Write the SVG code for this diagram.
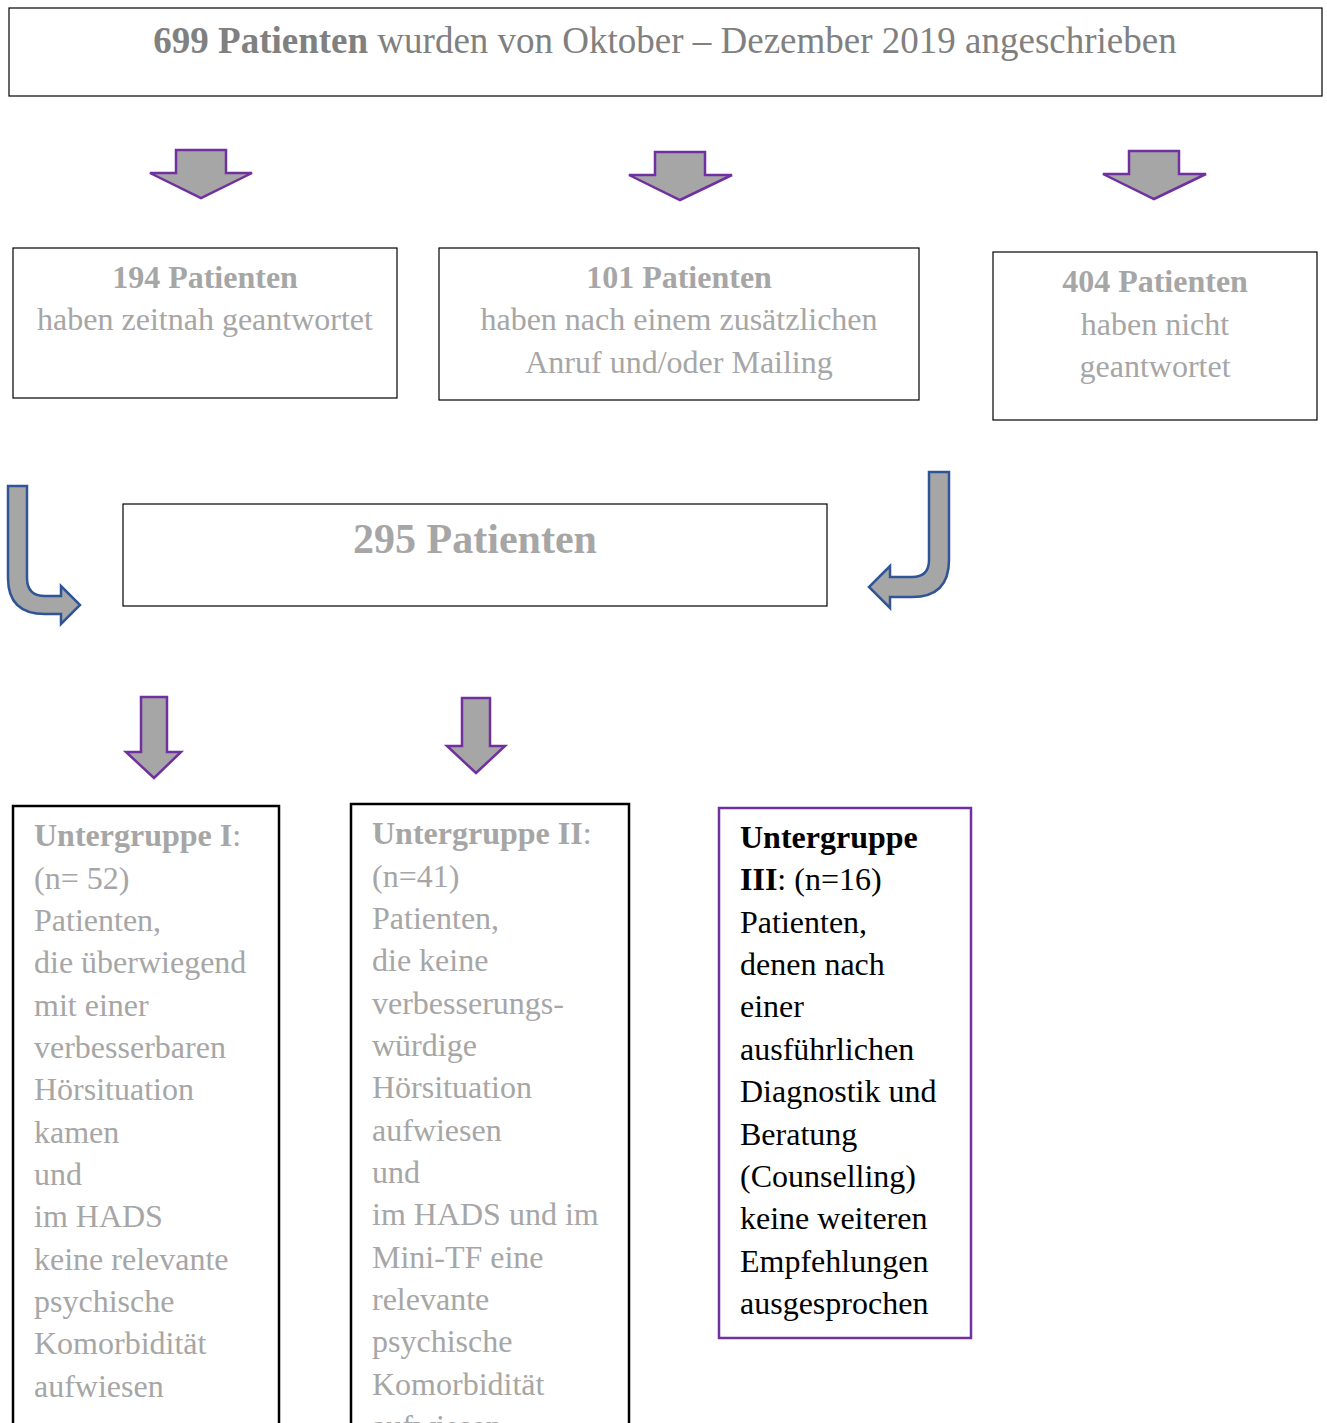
<svg xmlns="http://www.w3.org/2000/svg" width="1327" height="1423" viewBox="0 0 1327 1423">
<style>
text{font-family:"Liberation Serif","Times New Roman",serif;}
.box{fill:#fff;stroke:#000;stroke-width:1.2;}
.sub{fill:#fff;stroke:#000;stroke-width:2.5;}
.g{fill:#a6a6a6;font-size:32px;}
.t{fill:#808080;}
.b{font-weight:bold;}
.k{fill:#000;font-size:32px;}
.pa{fill:#a6a6a6;stroke:#7030a0;stroke-width:2.5;stroke-linejoin:miter;}
.ba{fill:#a6a6a6;stroke:#2f5597;stroke-width:2.5;}
</style>
<rect width="1327" height="1423" fill="#fff"/>
<g id="connectors">
<path class="pa" d="M176,150 H226 V173 H252 L201,198 L150,173 H176 Z"/>
<path class="pa" d="M655,152 H705 V175 H732 L680,200 L629,175 H655 Z"/>
<path class="pa" d="M1129,151 H1179 V174 H1206 L1154,199 L1103,174 H1129 Z"/>
<path class="ba" d="M8,486 H27 V578 Q27,596 45,596 H61 V586 L80,605 L61,624 V614 H45 Q8,614 8,578 Z"/>
<path class="ba" d="M929,472 H949 V560 Q949,597 912,597 H890 V608 L869,587 L890,566 V577 H912 Q929,577 929,560 Z"/>
<path class="pa" d="M141,697 H167 V752 H181 L154,778 L126,752 H141 Z"/>
<path class="pa" d="M462,698 H490 V746 H505 L476,773 L447,746 H462 Z"/>
</g>
<g id="n699">
<rect class="box" x="9" y="8" width="1313" height="88"/>
<text x="665" y="53" text-anchor="middle" font-size="37" class="t"><tspan class="b">699 Patienten</tspan> wurden von Oktober – Dezember 2019 angeschrieben</text>
</g>
<g id="n194">
<rect class="box" x="13" y="248" width="384" height="150"/>
<text class="g" text-anchor="middle"><tspan class="b" x="205" y="288">194 Patienten</tspan><tspan x="205" y="330">haben zeitnah geantwortet</tspan></text>
</g>
<g id="n101">
<rect class="box" x="439" y="248" width="480" height="152"/>
<text class="g" text-anchor="middle"><tspan class="b" x="679" y="288">101 Patienten</tspan><tspan x="679" y="330">haben nach einem zusätzlichen</tspan><tspan x="679" y="373">Anruf und/oder Mailing</tspan></text>
</g>
<g id="n404">
<rect class="box" x="993" y="252" width="324" height="168"/>
<text class="g" text-anchor="middle"><tspan class="b" x="1155" y="292">404 Patienten</tspan><tspan x="1155" y="335">haben nicht</tspan><tspan x="1155" y="377">geantwortet</tspan></text>
</g>
<g id="n295">
<rect class="box" x="123" y="504" width="704" height="102"/>
<text x="475" y="553" text-anchor="middle" font-size="42" fill="#a6a6a6" class="b">295 Patienten</text>
</g>
<g id="ug1">
<rect class="sub" x="13" y="806" width="266" height="640"/>
<text class="g">
<tspan x="34" y="846"><tspan class="b">Untergruppe I</tspan>:</tspan>
<tspan x="34" y="889">(n= 52)</tspan>
<tspan x="34" y="931">Patienten,</tspan>
<tspan x="34" y="973">die überwiegend</tspan>
<tspan x="34" y="1016">mit einer</tspan>
<tspan x="34" y="1058">verbesserbaren</tspan>
<tspan x="34" y="1100">Hörsituation</tspan>
<tspan x="34" y="1143">kamen</tspan>
<tspan x="34" y="1185">und</tspan>
<tspan x="34" y="1227">im HADS</tspan>
<tspan x="34" y="1270">keine relevante</tspan>
<tspan x="34" y="1312">psychische</tspan>
<tspan x="34" y="1354">Komorbidität</tspan>
<tspan x="34" y="1397">aufwiesen</tspan>
</text>
</g>
<g id="ug2">
<rect class="sub" x="351" y="804" width="278" height="640"/>
<text class="g">
<tspan x="372" y="844"><tspan class="b">Untergruppe II</tspan>:</tspan>
<tspan x="372" y="887">(n=41)</tspan>
<tspan x="372" y="929">Patienten,</tspan>
<tspan x="372" y="971">die keine</tspan>
<tspan x="372" y="1014">verbesserungs-</tspan>
<tspan x="372" y="1056">würdige</tspan>
<tspan x="372" y="1098">Hörsituation</tspan>
<tspan x="372" y="1141">aufwiesen</tspan>
<tspan x="372" y="1183">und</tspan>
<tspan x="372" y="1225">im HADS und im</tspan>
<tspan x="372" y="1268">Mini-TF eine</tspan>
<tspan x="372" y="1310">relevante</tspan>
<tspan x="372" y="1352">psychische</tspan>
<tspan x="372" y="1395">Komorbidität</tspan>
<tspan x="372" y="1437">aufwiesen</tspan>
</text>
</g>
<g id="ug3">
<rect x="719" y="808" width="252" height="530" fill="#fff" stroke="#7030a0" stroke-width="2.5"/>
<text class="k">
<tspan x="740" y="848" class="b">Untergruppe</tspan>
<tspan x="740" y="890"><tspan class="b">III</tspan>: (n=16)</tspan>
<tspan x="740" y="933">Patienten,</tspan>
<tspan x="740" y="975">denen nach</tspan>
<tspan x="740" y="1017">einer</tspan>
<tspan x="740" y="1060">ausführlichen</tspan>
<tspan x="740" y="1102">Diagnostik und</tspan>
<tspan x="740" y="1145">Beratung</tspan>
<tspan x="740" y="1187">(Counselling)</tspan>
<tspan x="740" y="1229">keine weiteren</tspan>
<tspan x="740" y="1272">Empfehlungen</tspan>
<tspan x="740" y="1314">ausgesprochen</tspan>
</text>
</g>
</svg>
